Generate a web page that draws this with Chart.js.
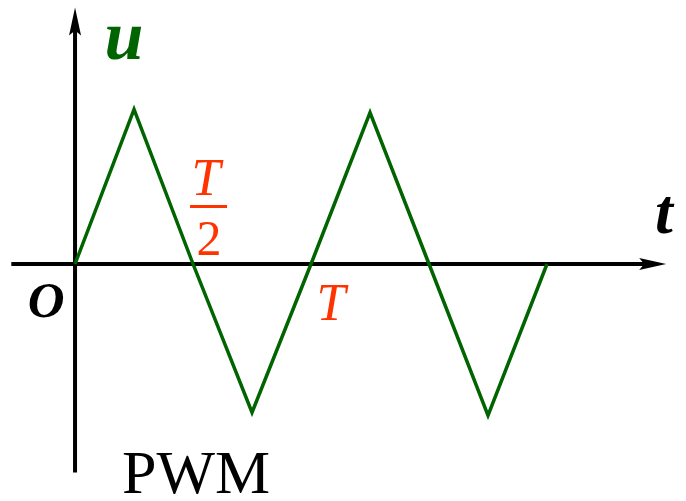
<!DOCTYPE html>
<html>
<head>
<meta charset="utf-8">
<script src="https://cdn.jsdelivr.net/npm/chart.js@4/dist/chart.umd.min.js"></script>
<style>
  html, body { margin: 0; padding: 0; background: #fff; }
  #wrap { width: 686px; height: 501px; position: relative; }
</style>
</head>
<body>
<div id="wrap"><canvas id="pwm"></canvas></div>
<script>
// time in units of the period T
const times = [0, 0.25, 0.5, 0.75, 1, 1.25, 1.5, 1.75, 2];
// triangle carrier u(t)
const voltages = [0, 1.03, 0, -0.99, 0, 1.01, 0, -1.01, 0];
// axis extents (data units) and visible window
const xRange = [-0.318, 2.589];
const yRange = [-1.58, 1.76];
const xAxisSpan = [-0.27, 2.505];
const yAxisSpan = [-1.39, 1.71];

const GREEN = '#006400';
const RED = '#ff3300';
const SERIF = '"Liberation Serif", "Times New Roman", serif';

// axes with arrowheads and the math labels
const axesPlugin = {
  id: 'axesPlugin',
  beforeDatasetsDraw(chart) {
    const { ctx, scales: { x, y } } = chart;
    const ox = x.getPixelForValue(0);
    const oy = y.getPixelForValue(0);
    const x0 = x.getPixelForValue(xAxisSpan[0]);
    const x1 = x.getPixelForValue(xAxisSpan[1]);
    const y0 = y.getPixelForValue(yAxisSpan[0]);
    const y1 = y.getPixelForValue(yAxisSpan[1]);

    ctx.save();
    ctx.strokeStyle = '#000';
    ctx.fillStyle = '#000';
    ctx.lineWidth = 4;
    ctx.beginPath();
    ctx.moveTo(x0, oy);
    ctx.lineTo(x1 - 20, oy);
    ctx.moveTo(ox, y0);
    ctx.lineTo(ox, y1 + 20);
    ctx.stroke();

    // arrow on t axis
    ctx.beginPath();
    ctx.moveTo(x1, oy);
    ctx.lineTo(x1 - 27, oy - 6);
    ctx.lineTo(x1 - 22, oy);
    ctx.lineTo(x1 - 27, oy + 6);
    ctx.closePath();
    ctx.fill();
    // arrow on u axis
    ctx.beginPath();
    ctx.moveTo(ox, y1);
    ctx.lineTo(ox - 6, y1 + 28);
    ctx.lineTo(ox, y1 + 23);
    ctx.lineTo(ox + 6, y1 + 28);
    ctx.closePath();
    ctx.fill();
    ctx.restore();
  },
  afterDatasetsDraw(chart) {
    const { ctx, scales: { x, y } } = chart;
    const ox = x.getPixelForValue(0);
    const oy = y.getPixelForValue(0);
    const xHalf = x.getPixelForValue(0.5);
    const xT = x.getPixelForValue(1);

    ctx.save();
    ctx.textAlign = 'center';
    ctx.textBaseline = 'alphabetic';

    ctx.fillStyle = GREEN;
    ctx.font = 'italic bold 70px ' + SERIF;
    ctx.fillText('u', ox + 49, 59);

    ctx.fillStyle = '#000';
    ctx.font = 'italic bold 64px ' + SERIF;
    ctx.fillText('t', 664, oy - 31);

    ctx.font = 'italic bold 51px ' + SERIF;
    ctx.fillText('O', ox - 29, oy + 53);

    ctx.fillStyle = RED;
    ctx.font = 'italic 52px ' + SERIF;
    ctx.fillText('T', xHalf + 13, oy - 69);
    ctx.fillRect(xHalf - 3, oy - 59, 37, 3);
    ctx.font = '50px ' + SERIF;
    ctx.fillText('2', xHalf + 16, oy - 9);

    ctx.font = 'italic 52px ' + SERIF;
    ctx.fillText('T', xT + 20, oy + 56);

    ctx.fillStyle = '#000';
    ctx.textAlign = 'left';
    ctx.font = '62px ' + SERIF;
    ctx.fillText('PWM', 122, 493);
    ctx.restore();
  }
};

new Chart(document.getElementById('pwm'), {
  type: 'line',
  data: {
    datasets: [{
      data: times.map((t, i) => ({ x: t, y: voltages[i] })),
      borderColor: GREEN,
      borderWidth: 3.5,
      pointRadius: 0,
      tension: 0,
      fill: false
    }]
  },
  options: {
    responsive: true,
    maintainAspectRatio: false,
    animation: false,
    layout: { padding: 0 },
    plugins: { legend: { display: false }, tooltip: { enabled: false } },
    scales: {
      x: { type: 'linear', min: xRange[0], max: xRange[1], display: false },
      y: { type: 'linear', min: yRange[0], max: yRange[1], display: false }
    }
  },
  plugins: [axesPlugin]
});
</script>
</body>
</html>
